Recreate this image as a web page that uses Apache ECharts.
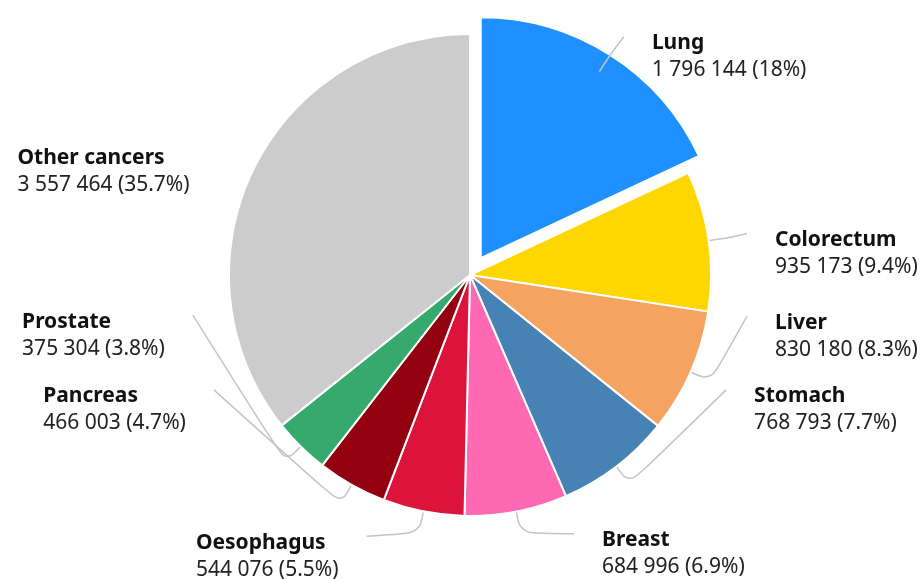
<!DOCTYPE html>
<html><head><meta charset="utf-8">
<script src="https://cdn.jsdelivr.net/npm/echarts@6/dist/echarts.min.js"></script>
<style>html,body{margin:0;padding:0;background:#fff}#c{width:923px;height:579px}</style>
</head><body><div id="c"></div>
<script>
const categories = ['Lung','Colorectum','Liver','Stomach','Breast','Oesophagus','Pancreas','Prostate','Other cancers'];
const values = [1796144, 935173, 830180, 768793, 684996, 544076, 466003, 375304, 3557464];
const colors = ['#1E90FF','#FFD700','#F4A460','#4682B4','#FF69B4','#DC143C','#930010','#36A96E','#CCCCCC'];
const explodedIndex = 0;

function fmt(n){ return String(n).replace(/\B(?=(\d{3})+(?!\d))/g, ' '); }

// layout (not data): pie geometry and label slots (angle deg clockwise from top, radius)
const CX = 470, CY = 275, R = 241, STUB = 22, GAP = 20, OFFSET = 20;
const labelSlotAngles = [34.2, 81.7, 98.2, 113.5, 156.6, 203.1, 246.5, 262.0, 295.3];
const labelSlotRadii  = [288, 288, 288, 288, 282, 284, 288, 288, 288];

const total = values.reduce((a, b) => a + b, 0);
const midAngles = [];
{ let acc = 0; values.forEach(v => { midAngles.push((acc + v / 2) / total * 360); acc += v; }); }

function pt(angleDeg, r, cx, cy){
  const a = angleDeg * Math.PI / 180;
  return [(cx ?? CX) + r * Math.sin(a), (cy ?? CY) - r * Math.cos(a)];
}
const shiftedCenter = pt(midAngles[explodedIndex], OFFSET);
const clear = 'rgba(0,0,0,0)';

const chart = echarts.init(document.getElementById('c'));
chart.setOption({
  animation: false,
  series: [{
    // exploded slice, drawn on its own shifted pie
    type: 'pie',
    z: 1,
    silent: true,
    center: shiftedCenter,
    radius: R,
    startAngle: 90,
    clockwise: true,
    label: { show: false },
    labelLine: { show: false },
    emphasis: { disabled: true },
    data: categories.map((c, i) => ({
      name: c, value: values[i],
      itemStyle: i === explodedIndex
        ? { color: colors[i], borderColor: '#fff', borderWidth: 2 }
        : { color: clear, borderWidth: 0 }
    }))
  }, {
    type: 'pie',
    z: 2,
    center: [CX, CY],
    radius: R,
    startAngle: 90,
    clockwise: true,
    percentPrecision: 1,
    emphasis: { disabled: true },
    label: {
      show: true,
      position: 'outside',
      formatter: p => '{n|' + p.name + '}\n{v|' + fmt(p.value) + ' (' + p.percent + '%)}',
      rich: {
        n: { fontFamily: 'Noto Sans', fontWeight: 'bold', fontSize: 21, color: '#111', lineHeight: 27, align: 'left' },
        v: { fontFamily: 'Noto Sans', fontSize: 21, color: '#222', lineHeight: 27, align: 'left' }
      }
    },
    labelLine: { show: true, smooth: 0.35, lineStyle: { color: '#c4c4c4', width: 1.5 } },
    labelLayout: function (params) {
      const i = params.dataIndex;
      const m = midAngles[i];
      const s = pt(m, R);
      const p1 = pt(m, R + STUB);
      const e = pt(labelSlotAngles[i], labelSlotRadii[i]);
      const side = e[0] >= CX ? 1 : -1;
      const e0 = [e[0] - side * 8, e[1]];
      return {
        x: e[0] + side * GAP,
        y: e[1] - 7,
        align: side > 0 ? 'left' : 'right',
        verticalAlign: 'top',
        labelLinePoints: [s, p1, e0, e]
      };
    },
    data: categories.map((c, i) => ({
      name: c, value: values[i],
      itemStyle: i === explodedIndex
        ? { color: clear, borderWidth: 0 }
        : { color: colors[i], borderColor: '#fff', borderWidth: 2 },
      labelLine: i === categories.length - 1 ? { show: false } : undefined
    }))
  }]
});
</script>
</body></html>
